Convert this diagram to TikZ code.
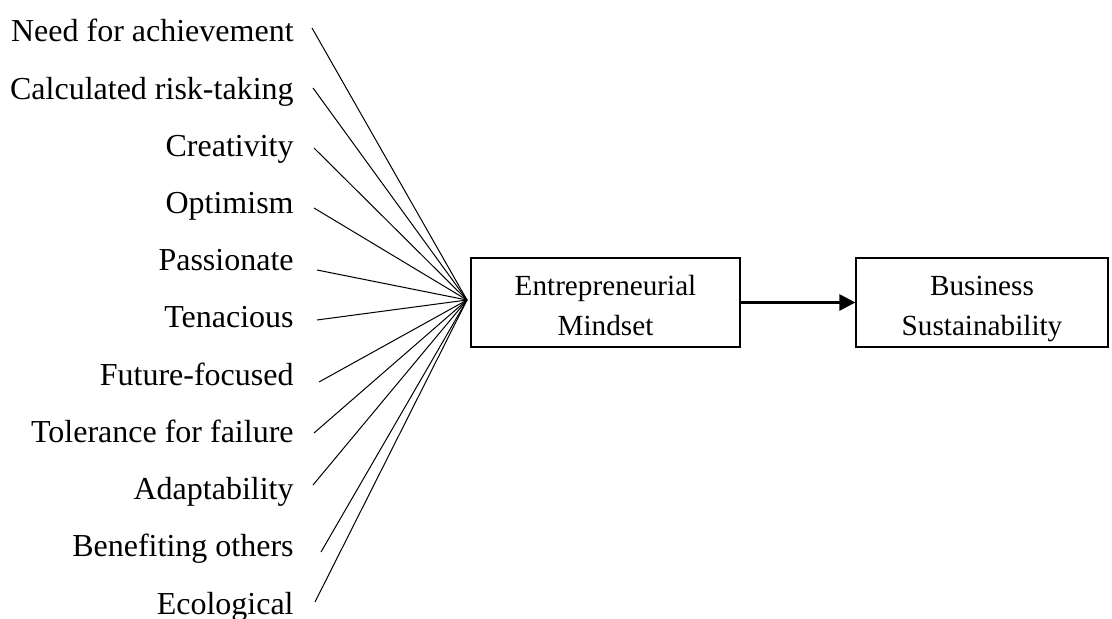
\documentclass[tikz,border=0pt]{standalone}
\usepackage{fontspec}
\setmainfont{Liberation Serif}
\usetikzlibrary{arrows.meta}

\tikzset{
  trait/.style={anchor=base east, inner sep=0pt, font=\fontsize{16}{19}\selectfont},
  mindbox/.style={draw, line width=0.6pt, minimum width=134.5pt, minimum height=44.5pt,
    align=center, inner sep=0pt, font=\fontsize{14.6}{20}\selectfont},
  boxtext/.style={align=center, inner sep=0pt, font=\fontsize{14.6}{20}\selectfont},
}

\begin{document}
\begin{tikzpicture}[x=0.5pt,y=-0.5pt]
\useasboundingbox (0,0) rectangle (1112,619);

\coordinate (hub) at (467,300);

% traits feeding the mindset
\foreach \i/\txt/\sx/\sy in {0/Need for achievement/312/28, 1/Calculated risk-taking/313/88,
  2/Creativity/314/148, 3/Optimism/314/208, 4/Passionate/317/270, 5/Tenacious/317/320,
  6/Future-focused/319/382, 7/Tolerance for failure/314/433, 8/Adaptability/313/485,
  9/Benefiting others/321/552, 10/Ecological/315/602}
{ \node[trait] (t\i) at (294,{42+57.2*\i}) {\txt};
  \coordinate (s\i) at (\sx,\sy);
  \draw[line width=0.5pt] (s\i) -- (hub);
}

\node[mindbox] (em) at (605.5,302.5) {};
\node[boxtext] (emtxt) at ([yshift=-1.5pt]em.center) {Entrepreneurial\\Mindset};
\node[mindbox, minimum width=126pt] (bs) at (982,302.5) {};
\node[boxtext] (bstxt) at ([yshift=-3pt]bs.center) {Business\\Sustainability};
\draw[line width=1.4pt, -{Triangle[length=8pt,width=8pt]}] (em) -- (bs);
\end{tikzpicture}
\end{document}
